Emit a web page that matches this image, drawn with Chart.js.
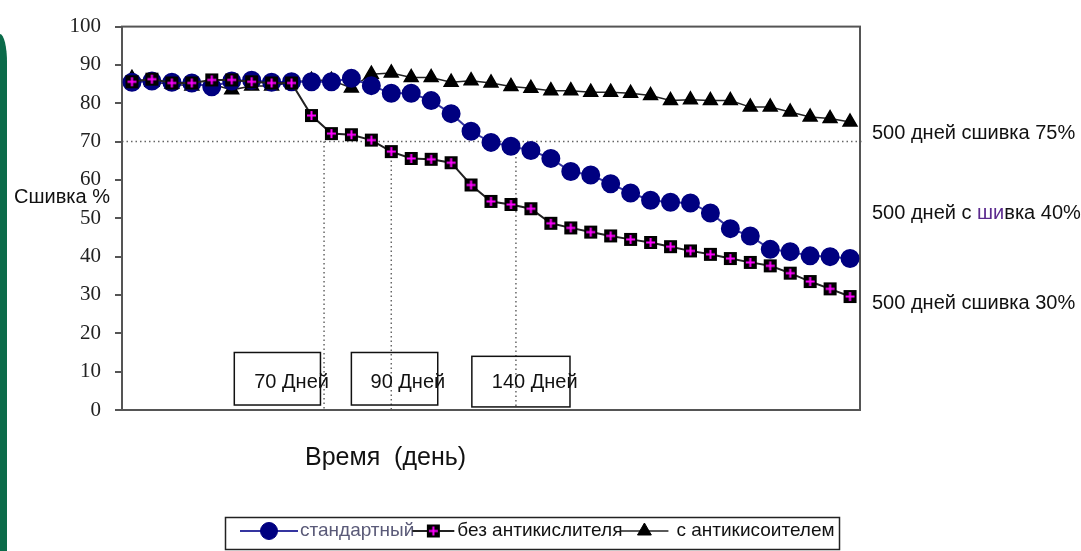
<!DOCTYPE html>
<html lang="ru">
<head>
    <meta charset="UTF-8">
    <title>Сшивка %</title>
    <style>
        body {
            margin: 0;
            background: #fff;
            font-family: "Liberation Sans", Arial, sans-serif;
        }

        .wrap {
            position: relative;
            width: 1081px;
            height: 551px;
            overflow: hidden;
        }

        /* green strip of the slide at the left edge */
        .strip {
            position: absolute;
            left: 0;
            top: 34px;
            width: 7px;
            height: 530px;
            background: #0b6b4a;
            border-top-right-radius: 10px 40px;
        }
    </style>
    <script src="https://cdn.jsdelivr.net/npm/chart.js"></script>
</head>

<body>
    <div class="wrap">
        <div class="strip"></div>
        <canvas id="chart"></canvas>
    </div>

    <script>
        // sample numbers along the time axis
        const samples = ['1', '2', '3', '4', '5', '6', '7', '8', '9', '10', '11', '12', '13', '14', '15', '16', '17', '18', '19',
            '20', '21', '22', '23', '24', '25', '26', '27', '28', '29', '30', '31', '32', '33', '34', '35', '36', '37'];

        // стандартный
        const standard = [85.5, 85.8, 85.5, 85.3, 84.3, 85.8, 86.0, 85.5, 85.6, 85.6, 85.6, 86.5, 84.6, 82.6, 82.6, 80.7,
            77.3, 72.7, 69.8, 68.8, 67.7, 65.6, 62.2, 61.3, 59.0, 56.6, 54.7, 54.2, 54.0, 51.4, 47.3, 45.4, 41.9, 41.3,
            40.2, 40.0, 39.5];

        // без антикислителя
        const noAntiox = [85.6, 86.3, 85.3, 85.3, 86.1, 86.1, 85.6, 85.3, 85.3, 76.8, 72.1, 71.8, 70.4, 67.4, 65.6, 65.4,
            64.5, 58.7, 54.4, 53.6, 52.5, 48.7, 47.5, 46.4, 45.4, 44.5, 43.7, 42.6, 41.5, 40.6, 39.5, 38.5, 37.6, 35.7,
            33.5, 31.6, 29.6];

        // с антикисоителем
        const withAntiox = [86.5, 85.5, 85.0, 84.5, 85.0, 83.5, 84.5, 84.5, 85.5, 86.0, 86.0, 84.0, 87.6, 87.9, 86.7, 86.7,
            85.5, 85.9, 85.3, 84.4, 83.9, 83.3, 83.3, 82.9, 82.9, 82.6, 82.0, 80.7, 80.9, 80.7, 80.7, 79.0, 79.0, 77.7,
            76.4, 76.0, 75.1];

        const seriesNames = ['стандартный', 'без антикислителя', 'с антикисоителем'];

        // day markers (position on sample axis, top of the dotted drop line)
        const markerText = ['70 Дней', '90 Дней', '140 Дней'];
        const markerAt = [9.63, 13, 19.25];
        const markerTop = [70, 67.4, 69.5];

        const levelLine = 70;

        const endLabels = ['500 дней сшивка 75%', '500 дней с шивка 40%', '500 дней сшивка 30%'];
        const endLabelAt = [72.1, 51.2, 27.9];

        // black square with a magenta cross
        function squareMarker() {
            const c = document.createElement('canvas');
            c.width = 15;
            c.height = 15;
            const g = c.getContext('2d');
            g.fillStyle = '#000';
            g.fillRect(1, 1, 13, 13);
            g.strokeStyle = '#ff00ff';
            g.lineWidth = 2;
            g.beginPath();
            g.moveTo(7.5, 3); g.lineTo(7.5, 12);
            g.moveTo(3, 7.5); g.lineTo(12, 7.5);
            g.stroke();
            return c;
        }

        const sqMark = squareMarker();

        const extras = {
            id: 'extras',
            beforeDatasetsDraw(chart) {
                const { ctx, chartArea: a, scales: { x, y } } = chart;
                ctx.save();
                // dotted guides
                ctx.strokeStyle = '#666';
                ctx.lineWidth = 1.5;
                ctx.setLineDash([1.5, 3]);
                ctx.beginPath();
                ctx.moveTo(a.left, y.getPixelForValue(levelLine));
                ctx.lineTo(a.right + 4, y.getPixelForValue(levelLine));
                markerAt.forEach((m, i) => {
                    const px = x.getPixelForValue(m);
                    ctx.moveTo(px, y.getPixelForValue(markerTop[i]));
                    ctx.lineTo(px, a.bottom);
                });
                ctx.stroke();
                ctx.setLineDash([]);
                // frame
                ctx.strokeStyle = '#555';
                ctx.lineWidth = 2;
                ctx.strokeRect(a.left, a.top, a.right - a.left, a.bottom - a.top);
                ctx.restore();
            },
            afterDraw(chart) {
                const { ctx, chartArea: a, scales: { x, y } } = chart;
                ctx.save();
                ctx.textBaseline = 'middle';

                // boxes with day labels
                const boxes = [[5.13, 9.45, 1.3, 15], [11.0, 15.33, 1.3, 15], [17.04, 21.96, 0.8, 14]];
                const textX = [6.13, 11.96, 18.04];
                ctx.strokeStyle = '#111';
                ctx.lineWidth = 1.5;
                ctx.font = '20px "Liberation Sans"';
                ctx.fillStyle = '#111';
                ctx.textAlign = 'left';
                boxes.forEach((b, i) => {
                    const x0 = x.getPixelForValue(b[0]), x1 = x.getPixelForValue(b[1]);
                    const y0 = y.getPixelForValue(b[3]), y1 = y.getPixelForValue(b[2]);
                    ctx.strokeRect(x0, y0, x1 - x0, y1 - y0);
                    ctx.fillText(markerText[i], x.getPixelForValue(textX[i]), y.getPixelForValue(7.2));
                });

                // right side notes
                ctx.font = '20px "Liberation Sans"';
                endLabels.forEach((t, i) => {
                    let px = a.right + 12;
                    const py = y.getPixelForValue(endLabelAt[i]);
                    const k = t.indexOf('с шивка');
                    if (k < 0) {
                        ctx.fillStyle = '#111';
                        ctx.fillText(t, px, py);
                        return;
                    }
                    const parts = [[t.slice(0, k + 2), '#111'], [t.slice(k + 2, k + 4), '#5b2a8e'], [t.slice(k + 4), '#111']];
                    parts.forEach(([s, col]) => {
                        ctx.fillStyle = col;
                        ctx.fillText(s, px, py);
                        px += ctx.measureText(s).width;
                    });
                });

                // axis titles
                ctx.fillStyle = '#111';
                ctx.font = '20px "Liberation Sans"';
                ctx.fillText('Сшивка %', a.left - 108, y.getPixelForValue(55.5));
                ctx.font = '25px "Liberation Sans"';
                ctx.fillText('Время  (день)', a.left + 183, a.bottom + 48);

                // legend
                const ly = 531;
                ctx.strokeStyle = '#222';
                ctx.lineWidth = 1.5;
                ctx.strokeRect(225.5, 517.5, 614, 32);
                const lens = [58, 42, 48];
                const textCol = ['#5a5a78', '#111', '#111'];
                const gap = [2, 3, 8];
                let lx = 240;
                ctx.font = '19px "Liberation Sans"';
                chart.data.datasets.forEach((ds, i) => {
                    const L = lens[i];
                    ctx.strokeStyle = ds.borderColor;
                    ctx.lineWidth = ds.borderWidth;
                    ctx.beginPath();
                    ctx.moveTo(lx, ly);
                    ctx.lineTo(lx + L, ly);
                    ctx.stroke();
                    ctx.fillStyle = ds.pointBackgroundColor;
                    ctx.strokeStyle = ds.pointBorderColor;
                    ctx.lineWidth = 1;
                    Chart.helpers.drawPoint(ctx, {
                        pointStyle: ds.pointStyle,
                        radius: ds.pointRadius,
                        borderWidth: 1,
                        rotation: 0
                    }, lx + L / 2, ly);
                    ctx.fillStyle = textCol[i];
                    const tx = lx + L + gap[i];
                    ctx.fillText(seriesNames[i], tx, ly);
                    lx = tx + ctx.measureText(seriesNames[i]).width - 2;
                });
                ctx.restore();
            }
        };

        new Chart(document.getElementById('chart'), {
            type: 'line',
            data: {
                labels: samples,
                datasets: [
                    {
                        label: seriesNames[0], data: standard, order: 1,
                        borderColor: '#3535a0', borderWidth: 2,
                        pointStyle: 'circle', pointRadius: 8.5,
                        pointBackgroundColor: '#000080', pointBorderColor: '#000080'
                    },
                    {
                        label: seriesNames[1], data: noAntiox, order: 0,
                        borderColor: '#222', borderWidth: 2,
                        pointStyle: sqMark, pointRadius: 7,
                        pointBackgroundColor: '#000', pointBorderColor: '#000'
                    },
                    {
                        label: seriesNames[2], data: withAntiox, order: 2,
                        borderColor: '#222', borderWidth: 1.5,
                        pointStyle: 'triangle', pointRadius: 8,
                        pointBackgroundColor: '#000', pointBorderColor: '#000'
                    }
                ]
            },
            options: {
                responsive: true,
                maintainAspectRatio: false,
                animation: false,
                events: [],
                layout: { padding: { left: 0, top: 24, right: 221, bottom: 141 } },
                plugins: {
                    legend: { display: false },
                    tooltip: { enabled: false }
                },
                scales: {
                    x: { type: 'category', offset: true, display: false },
                    y: {
                        min: 0,
                        max: 100,
                        afterFit: s => { s.width = 122; },
                        ticks: {
                            stepSize: 10,
                            padding: 14,
                            color: '#222',
                            font: { family: 'Liberation Serif', size: 21 }
                        },
                        grid: {
                            drawOnChartArea: false,
                            drawTicks: true,
                            tickLength: 7,
                            color: '#555',
                            lineWidth: 2
                        },
                        border: { display: true, color: '#555', width: 2 }
                    }
                }
            },
            plugins: [extras]
        });
    </script>
</body>

</html>
